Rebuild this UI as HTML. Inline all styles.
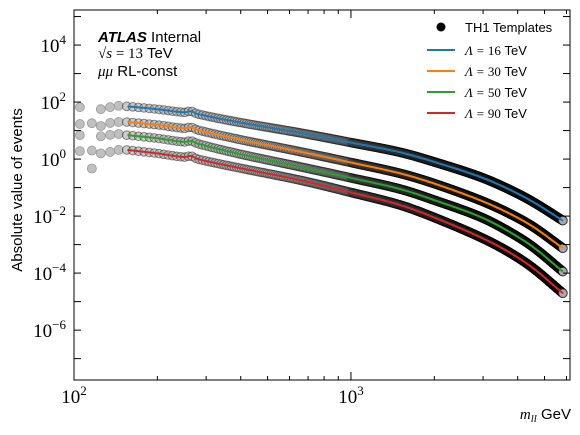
<!DOCTYPE html>
<html><head><meta charset="utf-8"><style>
body{margin:0;background:#fff;}
svg{display:block;font-family:"Liberation Sans",sans-serif;}
.ser{font-family:"Liberation Serif",serif;}
</style></head><body>
<svg id="c" width="580" height="435">
<rect x="74" y="10" width="496" height="370" fill="#fff" stroke="none"/>
<g id="marks"></g>
<g id="axes"></g>
<rect x="74" y="10" width="496" height="370" fill="none" stroke="#000" stroke-width="1"/>
<text x="0" y="0" transform="translate(22,190) rotate(-90)" font-size="15" text-anchor="middle">Absolute value of events</text>
<text x="571" y="419" font-size="15" text-anchor="end"><tspan class="ser" font-style="italic">m<tspan font-size="11" dy="3">ll</tspan></tspan><tspan dy="-3"> GeV</tspan></text>
<g>
<text x="98" y="42" font-size="15"><tspan font-weight="bold" font-style="italic">ATLAS</tspan> Internal</text>
<text x="98" y="58" font-size="15"><tspan class="ser">√<tspan font-style="italic">s</tspan> = 13</tspan> TeV</text>
<text x="98" y="76" font-size="15"><tspan class="ser" font-style="italic">μμ</tspan> RL-const</text>
</g>
<g id="legend"></g>
</svg>
<script>
const masses=[156,200,250,264,280,400,655,1000,1503,2000,2920,3700,4540,5830];
const blueLog=[1.85,1.75,1.64,1.68,1.58,1.28,0.92,0.58,0.24,-0.10,-0.62,-1.05,-1.50,-2.16];
const orangeLog=[1.3,1.2,1.08,1.12,1.02,0.68,0.26,-0.12,-0.50,-0.86,-1.44,-1.89,-2.37,-3.13];
const greenLog=[0.84,0.73,0.6,0.64,0.54,0.17,-0.27,-0.66,-1.05,-1.44,-2.02,-2.53,-3.08,-3.95];
const redLog=[0.32,0.2,0.07,0.11,0.0,-0.32,-0.74,-1.17,-1.61,-2.05,-2.73,-3.25,-3.82,-4.71];
const earlyM=[105,116,125,135,145];
const earlyBlue=[1.82,null,1.75,1.82,1.87];
const earlyOrange=[1.23,1.26,1.16,1.27,1.3];
const earlyGreen=[0.84,null,0.8,0.85,0.88];
const earlyRed=[0.28,0.3,0.2,0.25,0.32];
const extraM=[116];
const extraLog=[-0.33];
const seriesNames=["Λ = 16","Λ = 30","Λ = 50","Λ = 90"];
const colors=["#1f77b4","#ff7f0e","#2ca02c","#d62728"];
const xTickVals=[100,1000];
const yTickLabels=[-6,-4,-2,0,2,4];

const NS="http://www.w3.org/2000/svg";
const X0=74,X1=570,Y0=380,Y1=10;
const lxmin=2,lxmax=Math.log10(6180),lymin=-7.75,lymax=5.23;
function xs(m){return X0+(Math.log10(m)-lxmin)/(lxmax-lxmin)*(X1-X0);}
function ys(l){return Y0-(l-lymin)/(lymax-lymin)*(Y0-Y1);}
function mk(t,a,p){const e=document.createElementNS(NS,t);for(const k in a)e.setAttribute(k,a[k]);(p||document.getElementById('marks')).appendChild(e);return e;}
// smooth (cubic Hermite) interpolation in log-mass
function interp(arr,m){
  const L=masses.map(v=>Math.log10(v)),n=L.length,lm=Math.log10(m);
  let i=0;while(i<n-2&&lm>L[i+1])i++;
  const sl=k=>{const a=Math.max(0,k-1),b=Math.min(n-1,k+1);return (arr[b]-arr[a])/(L[b]-L[a]);};
  const h=L[i+1]-L[i],t=Math.min(1,Math.max(0,(lm-L[i])/h));
  const m0=sl(i)*h,m1=sl(i+1)*h;
  const t2=t*t,t3=t2*t;
  return (2*t3-3*t2+1)*arr[i]+(t3-2*t2+t)*m0+(-2*t3+3*t2)*arr[i+1]+(t3-t2)*m1;
}
const all=[blueLog,orangeLog,greenLog,redLog];
const early=[earlyBlue,earlyOrange,earlyGreen,earlyRed];
all.forEach((arr,si)=>{
  early[si].forEach((v,i)=>{if(v===null)return;
    const c=mk('circle',{cx:xs(earlyM[i]),cy:ys(v),r:4.5,fill:'#aaa','fill-opacity':0.75,stroke:'#999','stroke-width':0.8});
    
    
  });
  for(let m=155;m<=5830;m+=(m<1000?8:5)){
    const c=mk('circle',{cx:xs(m),cy:ys(interp(arr,m)),r:4.3,fill:'#aaa','fill-opacity':0.6,stroke:'#000','stroke-opacity':0.45,'stroke-width':1});
    
    
  }
});
extraM.forEach((m,i)=>{const c=mk('circle',{cx:xs(m),cy:ys(extraLog[i]),r:4.5,fill:'#aaa','fill-opacity':0.75,stroke:'#999','stroke-width':0.8});
  
  });
all.forEach((arr,si)=>{
  let d='';
  for(let m=156;m<=5830;m*=1.01){d+=(d?'L':'M')+xs(m).toFixed(1)+','+ys(interp(arr,m)).toFixed(1);}
  d+='L'+xs(5830).toFixed(1)+','+ys(interp(arr,5830)).toFixed(1);
  const p=mk('path',{d:d,fill:'none',stroke:colors[si],'stroke-width':2,'stroke-linejoin':'round'});
  
  
});
const ax=document.getElementById('axes');
for(let d=2;d<=3;d++){for(let k=1;k<10;k++){const m=k*Math.pow(10,d);if(m>6180)break;const x=xs(m);const L=k==1?8:4;
  mk('line',{x1:x,x2:x,y1:Y0,y2:Y0-L,stroke:'#000'},ax);mk('line',{x1:x,x2:x,y1:Y1,y2:Y1+L,stroke:'#000'},ax);}}
xTickVals.forEach(v=>{const t=mk('text',{x:xs(v),y:403,'font-size':19,'text-anchor':'middle',class:'ser'},ax);
  
  
  t.innerHTML='10<tspan dy="-8" font-size="13">'+Math.round(Math.log10(v))+'</tspan>';});
for(let l=-7;l<=5;l++){const y=ys(l);mk('line',{x1:X0,x2:X0+7,y1:y,y2:y,stroke:'#000'},ax);mk('line',{x1:X1,x2:X1-7,y1:y,y2:y,stroke:'#000'},ax);}
yTickLabels.forEach(l=>{const t=mk('text',{x:66,y:ys(l)+7,'font-size':19,'text-anchor':'end',class:'ser'},ax);
  
  
  t.innerHTML='10<tspan dy="-8" font-size="13">'+(l<0?'−'+(-l):l)+'</tspan>';});
const lg=document.getElementById('legend');
mk('circle',{cx:441,cy:27,r:4.5,fill:'#000'},lg);
let t=mk('text',{x:465,y:32,'font-size':13},lg);t.textContent='TH1 Templates';
seriesNames.forEach((n,i)=>{const y=50+i*21;
  mk('line',{x1:427,x2:455,y1:y,y2:y,stroke:colors[i],'stroke-width':2},lg);
  const tt=mk('text',{x:465,y:y+5,'font-size':13},lg);
  
  
  tt.innerHTML='<tspan class="ser" font-style="italic">'+n.replace(/\d+/,'')+'</tspan><tspan class="ser">'+n.match(/\d+/)[0]+'</tspan> TeV';});
</script>
</body></html>
